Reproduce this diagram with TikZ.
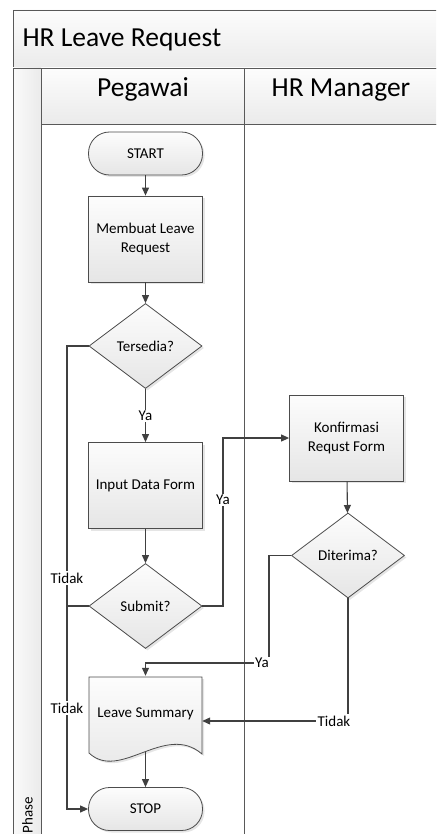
\documentclass[tikz,border=0pt]{standalone}
\usepackage{fontspec}
\setmainfont{Carlito}
\usetikzlibrary{shapes.geometric,arrows.meta,shadows}

\tikzset{
  lane/.style={draw=black!65, line width=0.9pt},
  hdr/.style={lane, top color=black!1, bottom color=black!8},
  shapeshade/.style={draw=black!70, line width=0.8pt, top color=black!1, bottom color=black!10,
    drop shadow={shadow xshift=2pt, shadow yshift=-2pt, fill=black, opacity=0.1}},
  terminal/.style={shapeshade, rectangle, rounded corners=21pt, minimum width=114pt, minimum height=43pt},
  process/.style={shapeshade, rectangle, minimum width=114pt, minimum height=86pt, align=center},
  decision/.style={shapeshade, diamond, aspect=1.33, inner sep=0pt, minimum width=113pt, minimum height=85pt},
  flow/.style={draw=black!75, line width=1.1pt, -{Triangle[length=8pt,width=7pt]}},
  link/.style={draw=black!75, line width=1.1pt},
  lbl/.style={fill=white, inner sep=1.5pt},
  big/.style={font=\fontsize{27.5}{31}\selectfont}
}

\begin{document}
\begin{tikzpicture}
        [x=1pt,y=-1pt,font=\fontsize{15}{18.5}\selectfont]
        \useasboundingbox (0,0) rectangle (436,834);
        \clip (0,0) rectangle (436,834);

        \path[hdr] (13,10) rectangle (445,68);
        \path[hdr] (41,68) rectangle (244,124);
        \path[hdr] (244,68) rectangle (445,124);
        \path[lane, left color=black!2, right color=black!8] (13,68) rectangle (41,845);
        \draw[lane] (41,124) rectangle (244,845);
        \draw[lane] (244,124) rectangle (445,845);

        \node[big, anchor=base west] (title) at (19,47) {HR Leave Request};
        \node[big, anchor=base] (peg) at (143,97) {Pegawai};
        \node[big, anchor=base] (mgr) at (341,97) {HR Manager};
        \node[rotate=90] (phase) at (27.5,815) {Phase};

        \node[terminal] (start) at (145.5,153.5) {START};
        \node[process] (mkreq) at (145.5,239) {Membuat Leave\\Request};
        \node[decision] (avail) at (145.5,346) {Tersedia?};
        \node[process] (input) at (145.5,485.5) {Input Data Form};
        \node[decision] (submit) at (145.5,606) {Submit?};
        \node[process] (confirm) at (346.5,438) {Konfirmasi\\Requst Form};
        \node[decision] (accept) at (348,555.5) {Diterima?};

        \fill[black, opacity=0.1] (91,679) -- (204,679) -- (204,756)
          .. controls (167,724) and (122,784) .. (91,755) -- cycle;
        \path[draw=black!70, line width=0.8pt, top color=black!1, bottom color=black!10]
          (89,677) -- (202,677) -- (202,754)
          .. controls (165,722) and (120,782) .. (89,753) -- cycle;
        \node[minimum width=113pt, minimum height=76pt] (summary) at (145.5,714) {Leave Summary};

        \node[terminal] (stop) at (145.5,809) {STOP};

        \coordinate (loopL) at (67,346);
        \coordinate (loopR) at (223,606);
        \coordinate (yaturn) at (269,663);

        \draw[flow] (start) -- (mkreq);
        \draw[flow] (mkreq) -- (avail);
        \draw[flow] (avail) -- (input);
        \draw[flow] (input) -- (submit);
        \draw[flow] (avail.west) -- (loopL) |- (stop.west);
        \draw[link] (submit.west) -- (submit.west -| loopL);
        \draw[flow] (submit.east) -- (loopR) |- (confirm.west);
        \draw[flow] (confirm) -- (accept);
        \draw[flow] (accept.west) -| (yaturn) -| (summary.north);
        \draw[flow] (accept.south) |- ([yshift=-7pt]summary.east);
        \draw[flow] (summary.south) -- (stop.north);

        \node[lbl] (ya1) at (145.5,416) {Ya};
        \node[lbl] (ya2) at (223,500) {Ya};
        \node[lbl] (ya3) at (262,663) {Ya};
        \node[lbl] (tidak1) at (67,578) {Tidak};
        \node[lbl] (tidak2) at (67,708) {Tidak};
        \node[lbl] (tidak3) at (334,721) {Tidak};
\end{tikzpicture}
\end{document}
